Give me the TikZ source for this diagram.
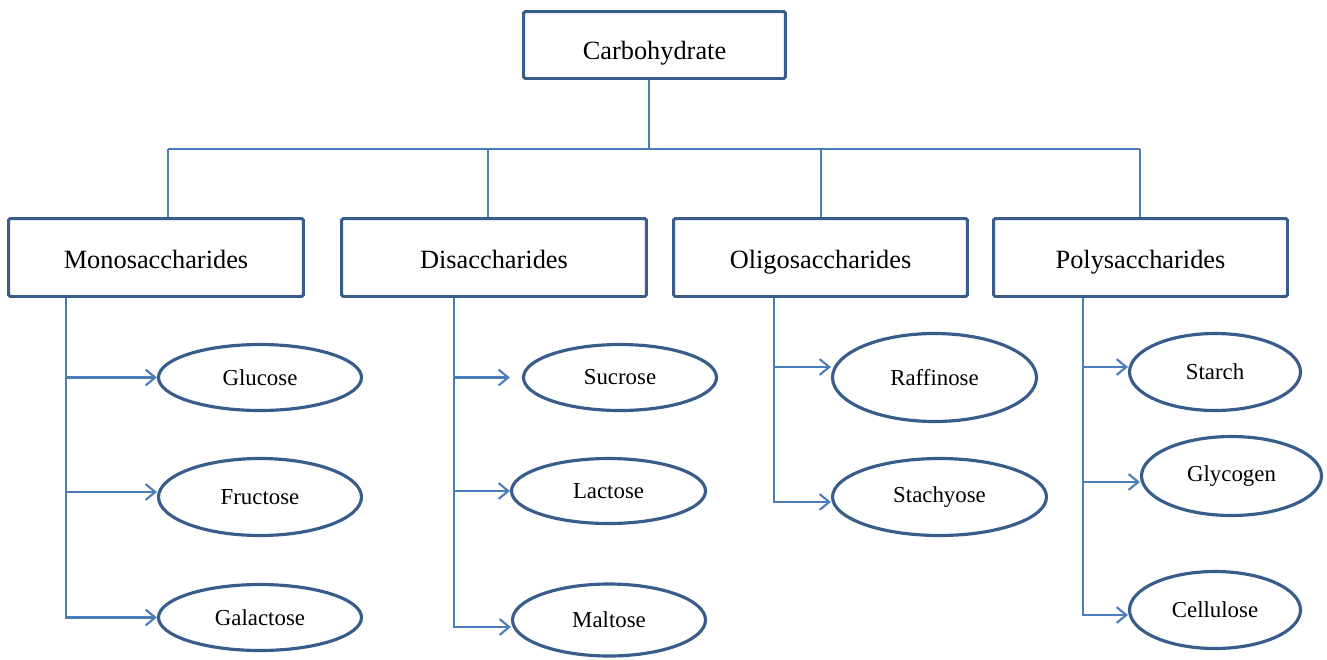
\documentclass[tikz,border=0pt]{standalone}
\usepackage{fontspec}
\setmainfont{Liberation Serif}
\usetikzlibrary{arrows.meta,shapes.geometric}
\definecolor{boxblue}{HTML}{385D8A}
\definecolor{lineblue}{HTML}{4A7EBB}

\begin{document}
\begin{tikzpicture}[x=0.02cm,y=-0.02cm,
  catbox/.style={draw=boxblue,line width=1.7pt,rounded corners=1pt,minimum height=1.56cm,inner sep=0pt,text height=15.5pt,text depth=3.3pt,font=\fontsize{15}{18}\selectfont},
  sugar/.style={ellipse,draw=boxblue,line width=1.8pt,inner sep=0pt,font=\fontsize{13}{16}\selectfont},
  conn/.style={draw=lineblue,line width=1.2pt},
  arr/.style={conn,-{Straight Barb[length=5.5pt,width=9pt]}}]

 \useasboundingbox (0,0) rectangle (1327,659);

 % top and the four groups
 \node[catbox,minimum width=5.24cm,minimum height=1.34cm,text height=19.4pt] (carb) at (654.5,45) {Carbohydrate};
 \node[catbox,minimum width=5.9cm] (mono) at (156,257.5) {Monosaccharides};
 \node[catbox,minimum width=6.1cm] (di) at (494,257.5) {Disaccharides};
 \node[catbox,minimum width=5.88cm] (oligo) at (820.5,257.5) {Oligosaccharides};
 \node[catbox,minimum width=5.88cm] (poly) at (1140.5,257.5) {Polysaccharides};

 \coordinate (bL) at (168,149);
 \coordinate (bR) at (1140,149);
 \draw[conn] (bL) -- (bR);
 \draw[conn] ([xshift=-0.11cm]carb.south) -- ([xshift=-0.11cm]carb.south |- bL);
 \foreach \x/\n in {168/mono,488/di,821/oligo,1140/poly}{
   \coordinate (t\n) at (\x,149);
   \draw[conn] (t\n) -- (t\n |- \n.north);
 }

 % monosaccharides
 \node[sugar,minimum width=4.06cm,minimum height=1.32cm] (glu) at (260,377.5) {Glucose};
 \node[sugar,minimum width=4.06cm,minimum height=1.54cm] (fru) at (260,497) {Fructose};
 \node[sugar,minimum width=4.06cm,minimum height=1.32cm] (gal) at (260,617.5) {Galactose};
 \coordinate (sM) at (66,298);
 \draw[arr] (sM) |- (gal.west);
 \draw[arr] (sM |- glu.west) -- (glu.west);
 \draw[arr] ([yshift=0.1cm]fru.west -| sM) -- ([yshift=0.1cm]fru.west);

 % disaccharides
 \node[sugar,minimum width=3.86cm,minimum height=1.32cm] (suc) at (620,377.5) {Sucrose};
 \node[sugar,minimum width=3.88cm,minimum height=1.3cm] (lac) at (608.5,491) {Lactose};
 \node[sugar,minimum width=3.86cm,minimum height=1.44cm] (mal) at (609,620) {Maltose};
 \coordinate (sD) at (454,298);
 \draw[arr] (sD) |- ([yshift=-0.14cm]mal.west);
 \draw[arr] (sD |- suc.west) -- ([xshift=-0.24cm]suc.west);
 \draw[arr] (sD |- lac.west) -- (lac.west);

 % oligosaccharides
 \node[sugar,minimum width=4.08cm,minimum height=1.76cm] (raf) at (934.5,377.5) {Raffinose};
 \node[sugar,minimum width=4.28cm,minimum height=1.54cm] (sta) at (939.5,497) {Stachyose};
 \coordinate (sO) at (774,298);
 \draw[arr] (sO) |- ([yshift=-0.1cm]sta.west);
 \draw[arr] ([yshift=0.21cm]raf.west -| sO) -- ([yshift=0.21cm]raf.west);

 % polysaccharides
 \node[sugar,minimum width=3.42cm,minimum height=1.54cm] (sta2) at (1215,372) {Starch};
 \node[sugar,minimum width=3.6cm,minimum height=1.58cm] (gly) at (1231.5,476) {Glycogen};
 \node[sugar,minimum width=3.42cm,minimum height=1.54cm] (cel) at (1215,610) {Cellulose};
 \coordinate (sP) at (1083,298);
 \draw[arr] (sP) |- ([yshift=-0.1cm]cel.west);
 \draw[arr] ([yshift=0.1cm]sta2.west -| sP) -- ([yshift=0.1cm]sta2.west);
 \draw[arr] ([yshift=-0.12cm]gly.west -| sP) -- ([yshift=-0.12cm]gly.west);

\end{tikzpicture}
\end{document}
